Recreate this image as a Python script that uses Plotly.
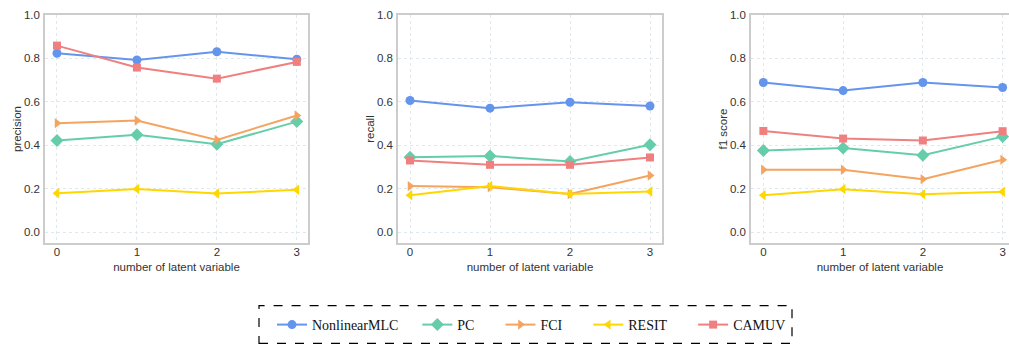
import plotly.graph_objects as go

x_vals = [0, 1, 2, 3]
methods = ["NonlinearMLC", "PC", "FCI", "RESIT", "CAMUV"]

precision_nonlinearmlc = [0.824, 0.793, 0.831, 0.796]
precision_pc = [0.422, 0.449, 0.405, 0.509]
precision_fci = [0.502, 0.514, 0.425, 0.537]
precision_resit = [0.179, 0.199, 0.178, 0.195]
precision_camuv = [0.859, 0.758, 0.707, 0.784]

recall_nonlinearmlc = [0.606, 0.571, 0.598, 0.581]
recall_pc = [0.345, 0.351, 0.325, 0.402]
recall_fci = [0.212, 0.207, 0.176, 0.261]
recall_resit = [0.170, 0.213, 0.176, 0.187]
recall_camuv = [0.330, 0.310, 0.310, 0.344]

f1_nonlinearmlc = [0.689, 0.652, 0.689, 0.666]
f1_pc = [0.376, 0.387, 0.354, 0.440]
f1_fci = [0.287, 0.287, 0.244, 0.333]
f1_resit = [0.170, 0.198, 0.175, 0.186]
f1_camuv = [0.466, 0.431, 0.422, 0.465]

y_ticks = [0.0, 0.2, 0.4, 0.6, 0.8, 1.0]
panel_titles = ["precision", "recall", "f1 score"]
x_title = "number of latent variable"

colors = {"NonlinearMLC": "#6495ED", "PC": "#66CDAA", "FCI": "#F4A460",
          "RESIT": "#FFD700", "CAMUV": "#F08080"}
symbols = {"NonlinearMLC": "circle", "PC": "diamond", "FCI": "triangle-right",
           "RESIT": "triangle-left", "CAMUV": "square"}
msizes = {"NonlinearMLC": 9, "PC": 10, "FCI": 9, "RESIT": 9, "CAMUV": 8}
# trailing non-breaking spaces to widen legend entry spacing
legend_pad = {"NonlinearMLC": 4, "PC": 6, "FCI": 6, "RESIT": 6, "CAMUV": 0}

panels = [
    [precision_nonlinearmlc, precision_pc, precision_fci, precision_resit, precision_camuv],
    [recall_nonlinearmlc, recall_pc, recall_fci, recall_resit, recall_camuv],
    [f1_nonlinearmlc, f1_pc, f1_fci, f1_resit, f1_camuv],
]

W, H = 1009, 347
fig = go.Figure()
for p, series in enumerate(panels):
    for m, ys in zip(methods, series):
        fig.add_trace(go.Scatter(
            x=x_vals, y=ys, mode="lines+markers",
            name=m + "\u00a0" * legend_pad[m],
            line=dict(color=colors[m], width=2),
            marker=dict(symbol=symbols[m], size=msizes[m], color=colors[m]),
            xaxis="x" if p == 0 else f"x{p+1}",
            yaxis="y" if p == 0 else f"y{p+1}",
            showlegend=(p == 0),
        ))

xdomains = [(45 / W, 308 / W), (398 / W, 662 / W), (751 / W, 1.0)]
xranges = [[-0.15, 3.14], [-0.15, 3.15], [-0.155, 3.08]]
ydom = (1 - 243 / H, 1 - 15 / H)

axis_font = dict(family="Liberation Sans, Arial, sans-serif", size=11.5, color="#333333")
layout = dict(
    width=W, height=H,
    margin=dict(l=0, r=0, t=0, b=0),
    paper_bgcolor="white", plot_bgcolor="white",
    font=axis_font,
)
for i in range(3):
    sx = "" if i == 0 else str(i + 1)
    layout[f"xaxis{sx}"] = dict(
        domain=list(xdomains[i]), range=xranges[i], anchor=f"y{sx}",
        tickvals=x_vals, ticks="", ticklabelstandoff=-3,
        showgrid=True, gridcolor="#dde9ee", griddash="dot", gridwidth=1,
        showline=True, linecolor="#cccccc", linewidth=1.5, mirror=True,
        zeroline=False, tickfont=axis_font,
        title=dict(text=x_title, font=axis_font, standoff=6),
        automargin=False,
    )
    layout[f"yaxis{sx}"] = dict(
        domain=list(ydom), range=[-0.05, 1.0], anchor=f"x{sx}",
        tickvals=y_ticks, tickformat=".1f", ticks="", ticklabelstandoff=1,
        showgrid=True, gridcolor="#dde9ee", griddash="dot", gridwidth=1,
        showline=True, linecolor="#cccccc", linewidth=1.5, mirror=True,
        zeroline=False, tickfont=axis_font,
        title=dict(text=panel_titles[i], font=axis_font, standoff=0),
        automargin=False,
    )
fig.update_layout(**layout)

fig.update_layout(
    legend=dict(
        orientation="h", x=272 / W, xanchor="left",
        y=1 - 325 / H, yanchor="middle",
        font=dict(family="Liberation Serif, Times New Roman, serif", size=14, color="#111111"),
        bgcolor="rgba(0,0,0,0)", borderwidth=0,
    ),
    shapes=[dict(
        type="rect", xref="paper", yref="paper",
        x0=259 / W, x1=792 / W, y0=1 - 343.3 / H, y1=1 - 305.7 / H,
        line=dict(color="black", width=1.2, dash="dash"), fillcolor="rgba(0,0,0,0)",
    )],
)

fig.write_html("out.html", config={"displayModeBar": False},
               post_script="document.body.style.margin='0';document.body.style.overflow='hidden';")
